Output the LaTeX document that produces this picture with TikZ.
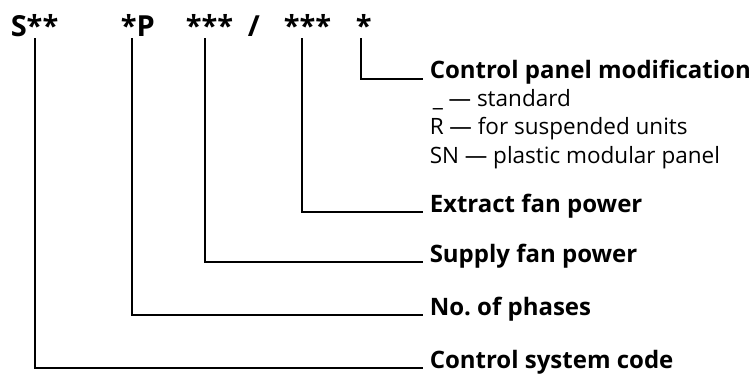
\documentclass[tikz,border=0pt]{standalone}
\usepackage{fontspec}
\setmainfont{Open Sans}
\usetikzlibrary{calc}

\begin{document}
\begin{tikzpicture}[x=1pt, y=1pt, every path/.style={line width=1.5pt}]

    \useasboundingbox (0,0) rectangle (753,373);

    \tikzset{code/.style={anchor=base west, inner sep=0pt, font=\fontsize{29}{29}\selectfont\bfseries},
             lbl/.style={anchor=base west, inner sep=0pt, font=\fontsize{24}{24}\selectfont\bfseries},
             sub/.style={anchor=base west, inner sep=0pt, font=\fontsize{22.5}{22.5}\selectfont}}

    % the code itself
    \node[code] (s)  at (10,336)  {S**};
    \node[code] (p)  at (120,336) {*P};
    \node[code] (sf) at (185,336) {***};
    \node[code] (sl) at (247,336) {/};
    \node[code] (ef) at (283,336) {***};
    \node[code] (cp) at (355,336) {*};

    % what each part means
    \node[lbl] (cpm) at (429,294) {Control panel modification};
    \node[sub] (std) at (432,266) {\_ — standard};
    \node[sub] (sus) at (429,238) {R — for suspended units};
    \node[sub] (pla) at (429,210) {SN — plastic modular panel};

    \node[lbl] (efp) at (429,161) {Extract fan power};
    \node[lbl] (sfp) at (429,111) {Supply fan power};
    \node[lbl] (nph) at (429,58)  {No.\ of phases};
    \node[lbl] (csc) at (429,5)   {Control system code};

    % leaders
    \draw[] ([xshift=6pt, yshift=-1.5pt]cp.base west)  |- ([xshift=-6pt]cpm.base west);
    \draw[] ([xshift=19pt, yshift=-1.5pt]ef.base west) |- ([xshift=-6pt]efp.base west);
    \draw[] ([xshift=20pt, yshift=-1.5pt]sf.base west) |- ([xshift=-6pt]sfp.base west);
    \draw[] ([xshift=12pt, yshift=-1.5pt]p.base west)  |- ([xshift=-6pt]nph.base west);
    \draw[] ([xshift=25pt, yshift=-1.5pt]s.base west)  |- ([xshift=-6pt]csc.base west);

\end{tikzpicture}
\end{document}
